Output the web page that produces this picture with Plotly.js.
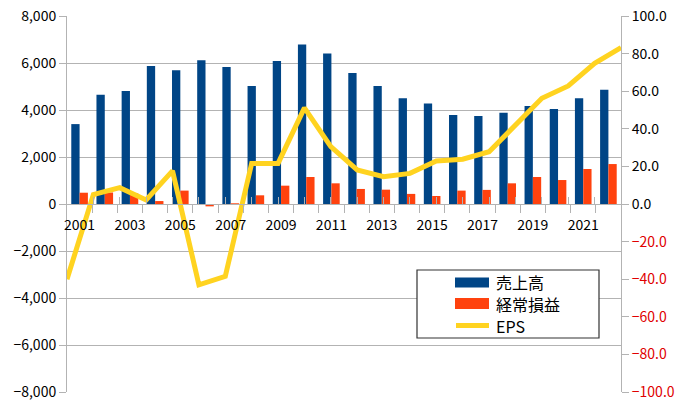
<!DOCTYPE html>
<html>
<head>
<meta charset="utf-8">
<script src="https://cdn.plot.ly/plotly-3.0.1.min.js"></script>
<style>html,body{margin:0;padding:0;background:#fff;}#chart{width:685px;height:406px;}</style>
</head>
<body>
<div id="chart"></div>
<script>
const years = [2001,2002,2003,2004,2005,2006,2007,2008,2009,2010,2011,2012,2013,2014,2015,2016,2017,2018,2019,2020,2021,2022];
const sales = [3400,4650,4810,5870,5690,6120,5830,5020,6080,6790,6400,5570,5020,4500,4280,3790,3740,3880,4170,4040,4500,4860];
const ordinaryProfit = [480,490,450,125,570,-100,30,370,780,1150,880,640,610,430,340,570,600,880,1150,1020,1490,1700];
const eps = [-40.0,5.0,8.7,2.1,17.6,-43.0,-38.5,21.6,21.6,51.1,30.5,18.1,14.5,16.3,22.9,23.8,27.8,42.0,56.2,62.8,74.8,83.2];
const labelYears = [2001,2003,2005,2007,2009,2011,2013,2015,2017,2019,2021];
const leftTicks = [-8000,-6000,-4000,-2000,0,2000,4000,6000,8000];
const rightTicks = [-100,-80,-60,-40,-20,0,20,40,60,80,100];

const names = ['売上高','経常損益','EPS'];
const colors = ['#004586','#ff420e','#ffd320'];
const grid = '#b3b3b3';
const font = '"Noto Sans CJK JP", "Noto Sans", sans-serif';

const boundaries = years.slice(0, -1).map(y => y + 0.5);
const rightText = rightTicks.map(v => {
  const s = Math.abs(v).toFixed(1);
  return v < 0 ? '<span style="color:#e00000">\u2212' + s + '</span>' : s;
});

// plot-area pixel helpers for the hand-drawn legend box
const M = {l:67, r:64, t:16, b:14}, W = 685, H = 406;
const pw = W - M.l - M.r, ph = H - M.t - M.b;
const px = x => (x - M.l) / pw;
const py = y => (H - M.b - y) / ph;

const traces = [
  {type:'bar', x:years, y:sales, name:names[0], marker:{color:colors[0]}, xaxis:'x', yaxis:'y'},
  {type:'bar', x:years, y:ordinaryProfit, name:names[1], marker:{color:colors[1]}, xaxis:'x', yaxis:'y'},
  {type:'scatter', mode:'lines', x:years, y:eps, name:names[2], line:{color:colors[2], width:5}, xaxis:'x2', yaxis:'y2'},
  {type:'scatter', mode:'none', x:[2001], y:[0], showlegend:false, hoverinfo:'skip', xaxis:'x3', yaxis:'y'}
];

const rowY = [282.5, 303.5, 325.5];
const shapes = [
  {type:'rect', xref:'paper', yref:'paper', x0:px(417), x1:px(599), y0:py(338), y1:py(270),
   line:{color:'#333', width:1.2}, fillcolor:'#fff', layer:'above'},
  {type:'rect', xref:'paper', yref:'paper', x0:px(455), x1:px(489), y0:py(rowY[0]+5), y1:py(rowY[0]-5),
   line:{width:0}, fillcolor:colors[0], layer:'above'},
  {type:'rect', xref:'paper', yref:'paper', x0:px(455), x1:px(489), y0:py(rowY[1]+5.5), y1:py(rowY[1]-5.5),
   line:{width:0}, fillcolor:colors[1], layer:'above'},
  {type:'line', xref:'paper', yref:'paper', x0:px(456), x1:px(489), y0:py(rowY[2]), y1:py(rowY[2]),
   line:{color:colors[2], width:5}, layer:'above'}
];
const annotations = names.map((n, i) => ({
  xref:'paper', yref:'paper', x:px(494), y:py(rowY[i]), xanchor:'left', yanchor:'middle',
  text:n, showarrow:false, font:{family:font, size:16, color:'#000'}
}));

const layout = {
  width:W, height:H,
  margin:M,
  paper_bgcolor:'#fff', plot_bgcolor:'#fff',
  font:{family:font, size:14, color:'#000'},
  barmode:'group', bargap:0.34, bargroupgap:0,
  showlegend:false,
  shapes:shapes, annotations:annotations,
  xaxis:{type:'linear', range:[2000.5, 2022.5], anchor:'free', position:0.5,
         tickmode:'array', tickvals:labelYears, ticktext:labelYears.map(String),
         ticks:'outside', ticklen:8, tickcolor:'rgba(0,0,0,0)',
         showgrid:false, zeroline:false, showline:true, linecolor:grid, linewidth:1,
         tickfont:{family:font, size:14, color:'#000'}},
  xaxis3:{type:'linear', range:[2000.5, 2022.5], overlaying:'x', anchor:'free', position:0.5,
          tickmode:'array', tickvals:boundaries, showticklabels:false,
          ticks:'outside', ticklen:8, tickcolor:grid, showgrid:false, zeroline:false, showline:false},
  xaxis2:{type:'linear', range:[2001, 2022], overlaying:'x', anchor:'free', position:0.5,
          tickmode:'array', tickvals:years, showticklabels:false,
          ticks:'inside', ticklen:7, tickcolor:grid, showgrid:false, zeroline:false, showline:false},
  yaxis:{range:[-8000, 8000], tickmode:'array', tickvals:leftTicks, tickformat:',d',
         showgrid:true, gridcolor:grid, gridwidth:1, zeroline:false,
         showline:true, linecolor:grid, ticks:'outside', ticklen:7, tickcolor:grid,
         tickfont:{family:font, size:14, color:'#000'}},
  yaxis2:{range:[-100, 100], overlaying:'y', side:'right', anchor:'x',
          tickmode:'array', tickvals:rightTicks, ticktext:rightText,
          showgrid:false, zeroline:false, showline:true, linecolor:grid,
          ticks:'outside', ticklen:7, tickcolor:grid,
          tickfont:{family:font, size:14, color:'#000'}}
};

Plotly.newPlot('chart', traces, layout, {displayModeBar:false, staticPlot:true});
</script>
</body>
</html>
